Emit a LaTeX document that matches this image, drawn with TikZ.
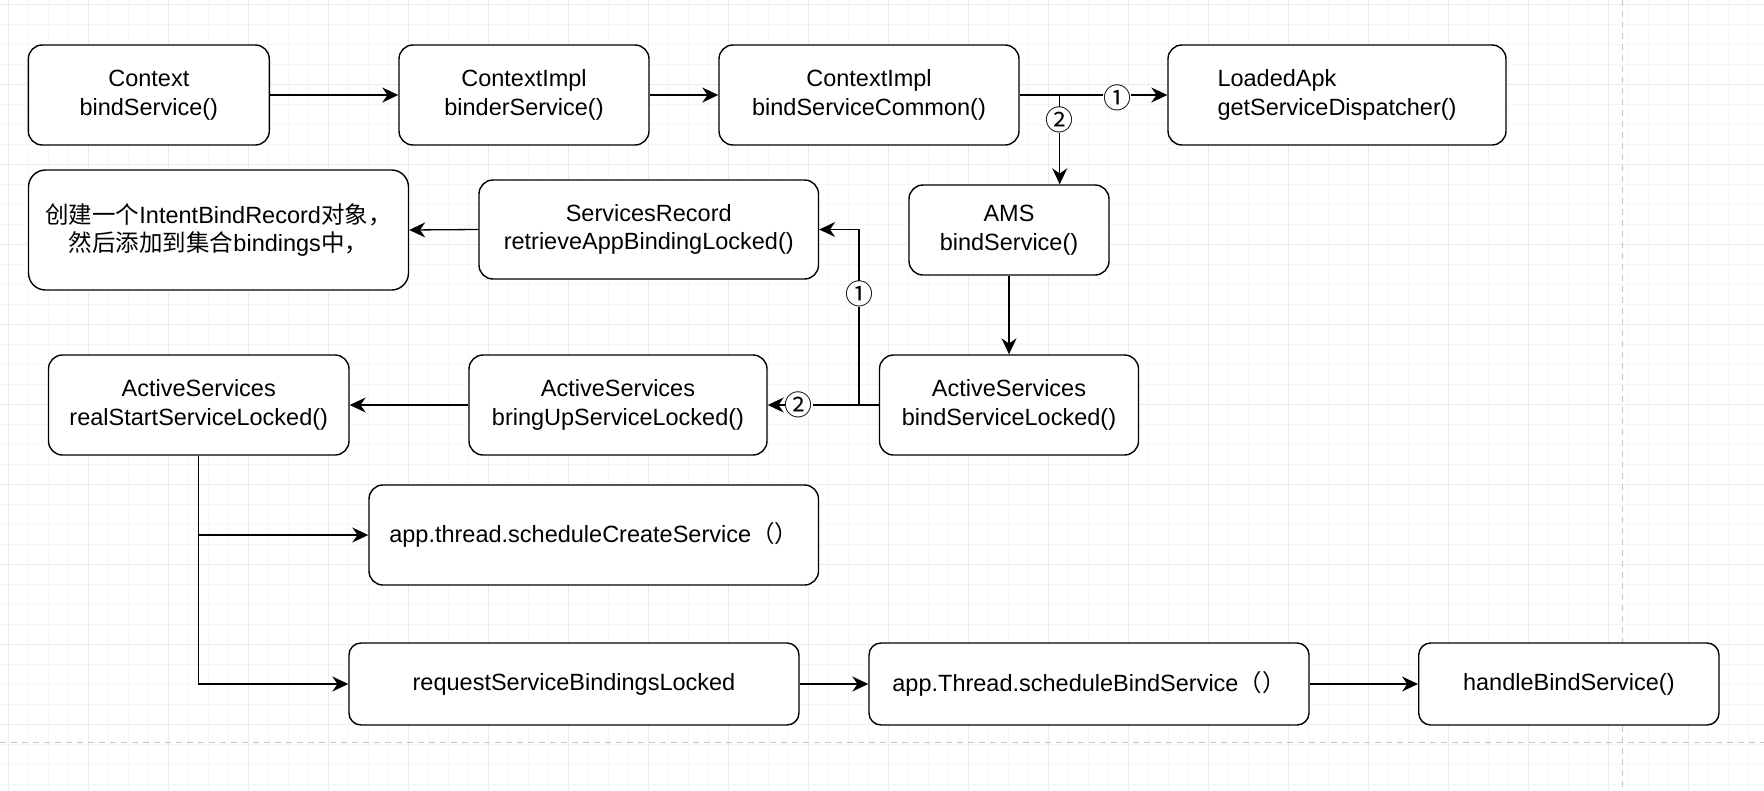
\documentclass[tikz,border=0pt]{standalone}
\usepackage{fontspec}
\setmainfont{Liberation Sans}
\newfontfamily\cjk{Noto Sans CJK SC}
\usetikzlibrary{arrows.meta}

\begin{document}
\begin{tikzpicture}[x=1pt,y=-1pt]
\tikzstyle{box}=[draw=black,line width=1.4pt,fill=white,rounded corners=14pt,inner sep=0pt,align=center,font=\fontsize{23.5pt}{28.5pt}\selectfont]
\tikzstyle{arr}=[line width=1.3pt,-{Stealth[length=16pt,width=15pt]}]
\tikzstyle{num}=[fill=white,inner sep=0pt,font=\cjk\fontsize{28pt}{28pt}\selectfont]
\tikzstyle{minorline}=[gray!7,line width=1pt]
\tikzstyle{majorline}=[gray!16,line width=1pt]
\tikzstyle{guide}=[gray!45,line width=1.5pt,dash pattern=on 6pt off 5pt]

\useasboundingbox (0,0) rectangle (1764,790);
\fill[white] (0,0) rectangle (1764,790);

\foreach \x in {8.3,28.3,...,1764}
{
  \draw[minorline] (\x,0) -- (\x,790);
}
\foreach \y in {4.3,24.3,...,790}
{
  \draw[minorline] (0,\y) -- (1764,\y);
}
\foreach \x in {8.3,88.3,...,1764}
{
  \draw[majorline] (\x,0) -- (\x,790);
}
\foreach \y in {4.3,84.3,...,790}
{
  \draw[majorline] (0,\y) -- (1764,\y);
}

\draw[guide] (1622.7,0) -- (1622.7,790);
\draw[guide] (0,742.7) -- (1764,742.7);


\node[box,minimum width=241pt,minimum height=100pt] (ctx) at (148.8,95) {Context\\bindService()};
\node[box,minimum width=250pt,minimum height=100pt] (bsrv) at (524,95) {ContextImpl\\binderService()};
\node[box,minimum width=300pt,minimum height=100pt] (bsc) at (869,95) {ContextImpl\\bindServiceCommon()};
\node[box,minimum width=338pt,minimum height=100pt,align=left] (apk) at (1337,95) {LoadedApk\\getServiceDispatcher()};

\node[box,minimum width=200pt,minimum height=90pt] (ams) at (1009,230) {AMS\\bindService()};
\node[box,minimum width=339.5pt,minimum height=99pt] (srec) at (648.75,229.5) {ServicesRecord\\retrieveAppBindingLocked()};
\node[box,minimum width=380pt,minimum height=120pt,rounded corners=17pt] (cn) at (218.5,230) {{\cjk 创建一个}IntentBindRecord{\cjk 对象，}\\{\cjk 然后添加到集合}bindings{\cjk 中，}};

\node[box,minimum width=259pt,minimum height=100pt] (bsl) at (1009,405) {ActiveServices\\bindServiceLocked()};
\node[box,minimum width=298pt,minimum height=100pt] (bup) at (618,405) {ActiveServices\\bringUpServiceLocked()};
\node[box,minimum width=300.5pt,minimum height=100pt] (rss) at (198.75,405) {ActiveServices\\realStartServiceLocked()};

\node[box,minimum width=449.5pt,minimum height=100pt] (csv) at (593.75,535) {app.thread.scheduleCreateService{\cjk （）}};

\node[box,minimum width=450pt,minimum height=82pt,rounded corners=12pt] (rsb) at (574,684) {requestServiceBindingsLocked};
\node[box,minimum width=440pt,minimum height=82pt,rounded corners=12pt] (sbs) at (1089,684) {app.Thread.scheduleBindService{\cjk （）}};
\node[box,minimum width=300.3pt,minimum height=82pt,rounded corners=12pt] (hbs) at (1568.85,684) {handleBindService()};


\coordinate (fork) at (1059.7,95);
\coordinate (split) at (859,405);

\draw[arr] (ctx.east) -- (bsrv.west);
\draw[arr] (bsrv.east) -- (bsc.west);
\draw[arr] (bsc.east) -- (apk.west) node[num,pos=0.66,yshift=-3pt] {①};
\draw[arr] (fork) -- (fork |- ams.north) node[num,pos=0.28] {②};

\draw[arr] (ams.south) -- (bsl.north);
\draw[arr] (bsl.west) -- (bup.east) node[num,pos=0.72] {②};
\draw[arr] (split) |- (srec.east) node[num,pos=0.316] {①};
\draw[arr] (srec.west) -- (cn.east);
\draw[arr] (bup.west) -- (rss.east);

\draw[arr] (rss.south) |- (csv.west);
\draw[arr] (rss.south) |- (rsb.west);
\draw[arr] (rsb.east) -- (sbs.west);
\draw[arr] (sbs.east) -- (hbs.west);

\end{tikzpicture}
\end{document}
